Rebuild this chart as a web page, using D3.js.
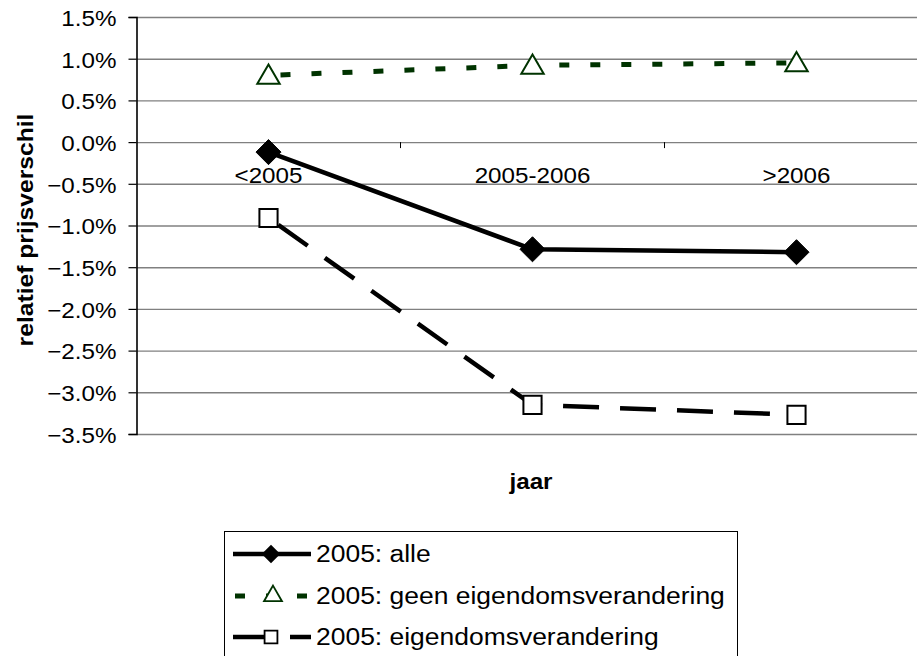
<!DOCTYPE html>
<html>
<head>
<meta charset="utf-8">
<script src="https://cdn.jsdelivr.net/npm/d3@7"></script>
<style>
  body { margin: 0; background: #fff; }
  svg { display: block; }
  text { font-family: "Liberation Sans", Arial, sans-serif; fill: #000; }
</style>
</head>
<body>
<svg id="chart" width="917" height="656"></svg>
<script>
// ---- data ----
const categories = ["<2005", "2005-2006", ">2006"];
const serieNames = ["2005: alle", "2005: geen eigendomsverandering", "2005: eigendomsverandering"];
const alle = [-0.0012, -0.01285, -0.0132];
const geen = [0.0080, 0.0092, 0.0095];
const eigendom = [-0.0091, -0.0315, -0.0327];
const yTicks = [-0.035, -0.03, -0.025, -0.02, -0.015, -0.01, -0.005, 0, 0.005, 0.01, 0.015];
const xTitle = "jaar";
const yTitle = "relatief prijsverschil";

const green = "#003300";
const svg = d3.select("#chart");

function stretch(sel, k) {
  sel.each(function () {
    const len = this.getComputedTextLength();
    d3.select(this).attr("textLength", len * k).attr("lengthAdjust", "spacingAndGlyphs");
  });
}

const mLeft = 136.5, mTop = 17, plotH = 417, plotW = 792;
const g = svg.append("g").attr("transform", `translate(${mLeft},${mTop})`);

const x = d3.scaleBand().domain(categories).range([0, plotW]).paddingInner(0).paddingOuter(0);
const y = d3.scaleLinear().domain([-0.035, 0.015]).range([plotH, 0]);
const cx = c => x(c) + x.bandwidth() / 2;

// gridlines
g.append("g")
  .call(d3.axisLeft(y).tickValues(yTicks).tickSize(-plotW - 20).tickFormat(""))
  .call(s => s.select(".domain").remove())
  .call(s => s.selectAll("line").attr("stroke", "#808080").attr("stroke-width", 1.4));

// y axis
const yAxis = g.append("g")
  .call(d3.axisLeft(y).tickValues(yTicks).tickSize(8).tickPadding(12)
    .tickFormat(d => d3.format(".1f")(d * 100) + "%"));
yAxis.select(".domain").attr("stroke", "#000").attr("stroke-width", 1.6);
yAxis.selectAll("line").attr("stroke", "#000").attr("stroke-width", 1.2);
yAxis.selectAll("text").attr("font-size", 22).attr("dy", "0.38em")
  .style("font-family", '"Liberation Sans", Arial, sans-serif').call(stretch, 1.1);

// x axis (category labels at y = 0)
const xAxis = g.append("g").attr("transform", `translate(0,${y(0)})`)
  .call(d3.axisBottom(x).tickSize(0));
xAxis.select(".domain").remove();
xAxis.selectAll("text").attr("font-size", 22).attr("y", 41).attr("dy", 0)
  .style("font-family", '"Liberation Sans", Arial, sans-serif').call(stretch, 1.1);
// tick marks between categories
g.append("g").selectAll("line")
  .data(categories.slice(0, -1))
  .join("line")
  .attr("x1", d => x(d) + x.bandwidth()).attr("x2", d => x(d) + x.bandwidth())
  .attr("y1", y(0)).attr("y2", y(0) + 6)
  .attr("stroke", "#000").attr("stroke-width", 1);

// series
const line = d3.line().x((d, i) => cx(categories[i])).y(d => y(d));

g.append("path").datum(geen).attr("d", line)
  .attr("fill", "none").attr("stroke", green).attr("stroke-width", 5)
  .attr("stroke-dasharray", "10,21").attr("stroke-dashoffset", -12);

g.append("path").datum(eigendom).attr("d", line)
  .attr("fill", "none").attr("stroke", "#000").attr("stroke-width", 4.5)
  .attr("stroke-dasharray", "36,21").attr("stroke-dashoffset", -12);

g.append("path").datum(alle).attr("d", line)
  .attr("fill", "none").attr("stroke", "#000").attr("stroke-width", 4.5);

const diamond = d3.symbol().type(d3.symbolDiamond2);
const tri = d3.symbol().type(d3.symbolTriangle2);
const sq = d3.symbol().type(d3.symbolSquare2);

g.append("g").selectAll("path").data(alle).join("path")
  .attr("d", diamond.size(400)())
  .attr("transform", (d, i) => `translate(${cx(categories[i])},${y(d)})`)
  .attr("fill", "#000").attr("stroke", "#000").attr("stroke-width", 1);

g.append("g").selectAll("path").data(geen).join("path")
  .attr("d", tri.size(360)())
  .attr("transform", (d, i) => `translate(${cx(categories[i])},${y(d) + 2})`)
  .attr("fill", "#fff").attr("stroke", green).attr("stroke-width", 2);

g.append("g").selectAll("path").data(eigendom).join("path")
  .attr("d", sq.size(420)())
  .attr("transform", (d, i) => `translate(${cx(categories[i])},${y(d)})`)
  .attr("fill", "#fff").attr("stroke", "#000").attr("stroke-width", 2);

// axis titles
svg.append("text").attr("x", 531).attr("y", 489).attr("text-anchor", "middle")
  .attr("font-size", 22).attr("font-weight", "bold").text(xTitle).call(stretch, 1.1);
svg.append("text").attr("transform", "translate(33,230) rotate(-90)").attr("text-anchor", "middle")
  .attr("font-size", 22).attr("font-weight", "bold").text(yTitle).call(stretch, 1.12);

// legend
const lg = svg.append("g");
lg.append("rect").attr("x", 224.5).attr("y", 531.5).attr("width", 513).attr("height", 200)
  .attr("fill", "#fff").attr("stroke", "#000").attr("stroke-width", 1);
const rowY = [554, 596, 637];
const l0 = 233, l1 = 311, mx = 271;
// row 1
lg.append("line").attr("x1", l0).attr("x2", l1).attr("y1", rowY[0]).attr("y2", rowY[0])
  .attr("stroke", "#000").attr("stroke-width", 4.5);
lg.append("path").attr("d", diamond.size(220)()).attr("transform", `translate(${mx},${rowY[0]})`)
  .attr("fill", "#000");
// row 2
lg.append("line").attr("x1", l0 + 2).attr("x2", l1).attr("y1", rowY[1]).attr("y2", rowY[1])
  .attr("stroke", green).attr("stroke-width", 5).attr("stroke-dasharray", "10,21");
lg.append("path").attr("d", tri.size(230)()).attr("transform", `translate(${mx + 2},${rowY[1]})`)
  .attr("fill", "#fff").attr("stroke", green).attr("stroke-width", 1.8);
// row 3
lg.append("line").attr("x1", l0).attr("x2", l1).attr("y1", rowY[2]).attr("y2", rowY[2])
  .attr("stroke", "#000").attr("stroke-width", 4.5).attr("stroke-dasharray", "36,21");
lg.append("path").attr("d", sq.size(210)()).attr("transform", `translate(${mx},${rowY[2]})`)
  .attr("fill", "#fff").attr("stroke", "#000").attr("stroke-width", 1.8);

lg.selectAll("text.lab").data(serieNames).join("text").attr("class", "lab")
  .attr("x", 316).attr("y", (d, i) => rowY[i]).attr("dy", "0.36em")
  .attr("font-size", 23).text(d => d).call(stretch, 1.15);
</script>
</body>
</html>
